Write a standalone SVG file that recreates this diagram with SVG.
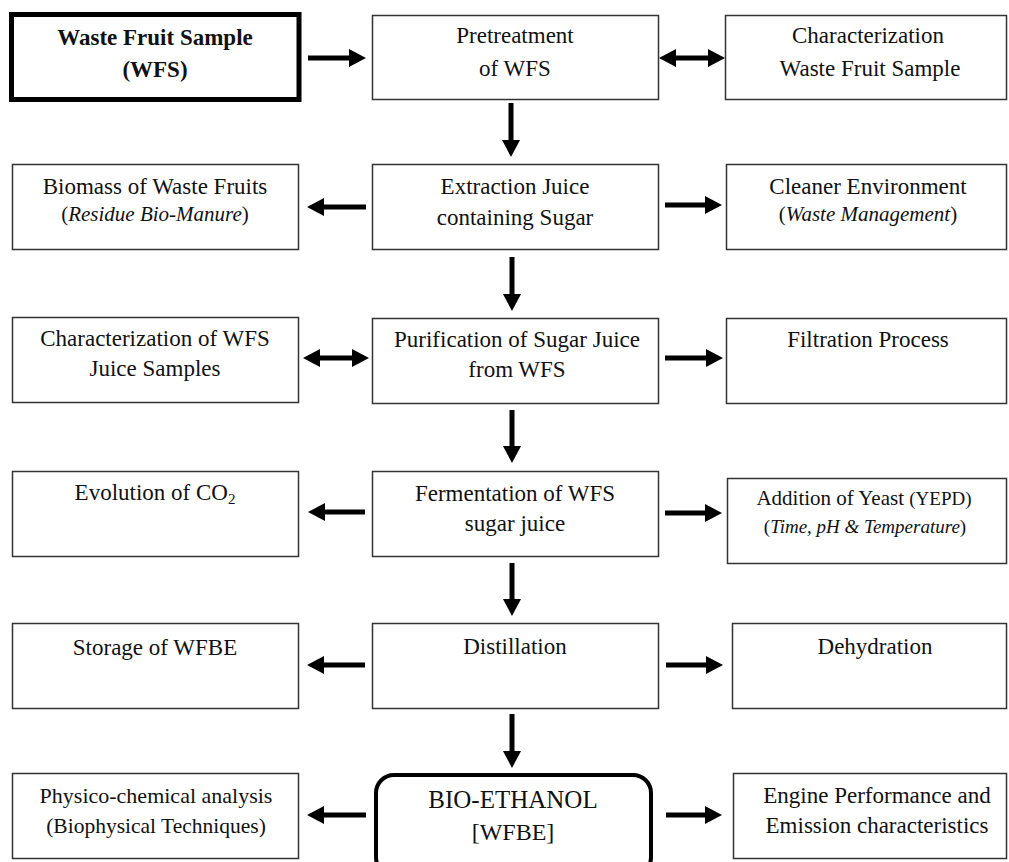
<svg xmlns="http://www.w3.org/2000/svg" width="1009" height="862" viewBox="0 0 1009 862">
<style>
  .box{fill:#fff;stroke:#333;stroke-width:1.5}
  text{font-family:"Liberation Serif","Times New Roman",serif;font-size:23px;fill:#111;text-anchor:middle}
  .s{font-size:21px}
  .i{font-style:italic}
  .b{font-weight:bold}
  .a{stroke:#000;stroke-width:5;fill:none;marker-end:url(#ah)}
  .d{marker-start:url(#ah)}
</style>
<defs>
  <marker id="ah" markerUnits="userSpaceOnUse" markerWidth="18" markerHeight="18" refX="5" refY="9" orient="auto-start-reverse">
    <path d="M0,0 L17,9 L0,18 z" fill="#000"/>
  </marker>
</defs>
<rect width="1009" height="862" fill="#fff"/>

<g id="n-wfs">
  <rect x="11.5" y="14.5" width="287.5" height="85" fill="#fff" stroke="#000" stroke-width="5"/>
  <text class="b" x="155" y="45">Waste Fruit Sample</text>
  <text class="b" x="155" y="77">(WFS)</text>
</g>
<g id="n-pretreat">
  <rect class="box" x="372.5" y="15.5" width="286" height="84"/>
  <text x="515" y="43">Pretreatment</text>
  <text x="515" y="76">of WFS</text>
</g>
<g id="n-charwfs">
  <rect class="box" x="725.5" y="15.5" width="281" height="84"/>
  <text x="868" y="43">Characterization</text>
  <text x="870" y="76">Waste Fruit Sample</text>
</g>

<g id="n-biomass">
  <rect class="box" x="12.5" y="164.5" width="286" height="85"/>
  <text x="155" y="194">Biomass of Waste Fruits</text>
  <text class="s" x="155" y="221">(<tspan class="i">Residue Bio-Manure</tspan>)</text>
</g>
<g id="n-extract">
  <rect class="box" x="372.5" y="164.5" width="286" height="85"/>
  <text x="515" y="194">Extraction Juice</text>
  <text x="515" y="225">containing Sugar</text>
</g>
<g id="n-cleaner">
  <rect class="box" x="726.5" y="164.5" width="280" height="85"/>
  <text x="868" y="194">Cleaner Environment</text>
  <text class="s" x="868" y="221">(<tspan class="i">Waste Management</tspan>)</text>
</g>

<g id="n-charjuice">
  <rect class="box" x="12.5" y="317.5" width="286" height="85"/>
  <text x="155" y="346">Characterization of WFS</text>
  <text x="155" y="376">Juice Samples</text>
</g>
<g id="n-purify">
  <rect class="box" x="372.5" y="318.5" width="286" height="85"/>
  <text x="517" y="347">Purification of Sugar Juice</text>
  <text x="517" y="377">from WFS</text>
</g>
<g id="n-filter">
  <rect class="box" x="726.5" y="318.5" width="280" height="85"/>
  <text x="868" y="347">Filtration Process</text>
</g>

<g id="n-co2">
  <rect class="box" x="12.5" y="471.5" width="286" height="85"/>
  <text x="155" y="500">Evolution of CO<tspan font-size="15" dy="4">2</tspan></text>
</g>
<g id="n-ferment">
  <rect class="box" x="372.5" y="471.5" width="286" height="85"/>
  <text x="515" y="501">Fermentation of WFS</text>
  <text x="515" y="531">sugar juice</text>
</g>
<g id="n-yeast">
  <rect class="box" x="727.5" y="478.5" width="279" height="85"/>
  <text class="s" x="864" y="505">Addition of Yeast <tspan font-size="19">(YEPD)</tspan></text>
  <text style="font-size:19px" x="865" y="533">(<tspan class="i">Time, pH &amp; Temperature</tspan>)</text>
</g>

<g id="n-storage">
  <rect class="box" x="12.5" y="623.5" width="286" height="85"/>
  <text x="155" y="655">Storage of WFBE</text>
</g>
<g id="n-distill">
  <rect class="box" x="372.5" y="623.5" width="286" height="85"/>
  <text x="515" y="654">Distillation</text>
</g>
<g id="n-dehyd">
  <rect class="box" x="732.5" y="623.5" width="274" height="85"/>
  <text x="875" y="654">Dehydration</text>
</g>

<g id="n-physico">
  <rect class="box" x="12.5" y="773.5" width="286" height="85"/>
  <text style="font-size:22px" x="156" y="803">Physico-chemical analysis</text>
  <text style="font-size:21.5px" x="156" y="833">(Biophysical Techniques)</text>
</g>
<g id="n-bioethanol">
  <rect x="376" y="775" width="275" height="100" rx="18" fill="#fff" stroke="#000" stroke-width="4"/>
  <text style="font-size:25px" x="513" y="808">BIO-ETHANOL</text>
  <text style="font-size:24px" x="513" y="840">[WFBE]</text>
</g>
<g id="n-engine">
  <rect class="box" x="733.5" y="773.5" width="273" height="85"/>
  <text x="877" y="803">Engine Performance and</text>
  <text x="877" y="833">Emission characteristics</text>
</g>

<g id="connectors">
  <path class="a" d="M308,58 H354"/>
  <path class="a d" d="M671,58 H713"/>
  <path class="a" d="M511,103 V145"/>
  <path class="a" d="M366,207 H319"/>
  <path class="a" d="M665,205 H710"/>
  <path class="a" d="M512,257 V299"/>
  <path class="a d" d="M315,358 H357"/>
  <path class="a" d="M665,358 H711"/>
  <path class="a" d="M512,410 V451"/>
  <path class="a" d="M365,512 H320"/>
  <path class="a" d="M665,513 H710"/>
  <path class="a" d="M512,563 V604"/>
  <path class="a" d="M365,665 H319"/>
  <path class="a" d="M666,665 H711"/>
  <path class="a" d="M512,714 V756"/>
  <path class="a" d="M366,815 H319"/>
  <path class="a" d="M666,815 H710"/>
</g>
</svg>
